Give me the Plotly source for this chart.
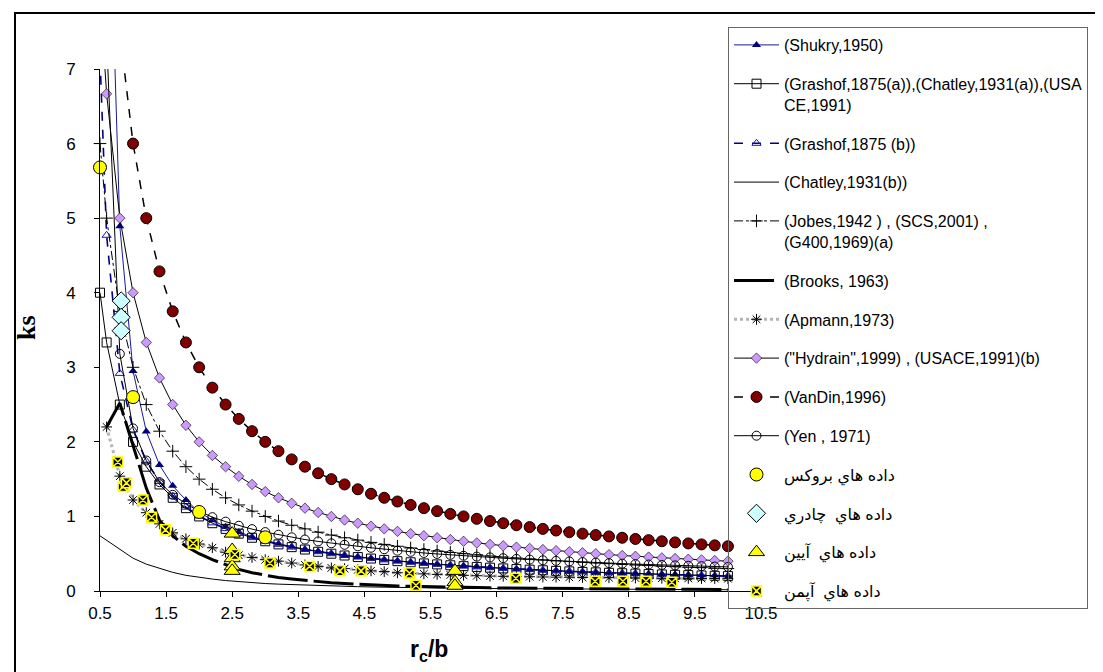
import plotly.graph_objects as go

# ---------------- data ----------------
X = [0.5, 0.6, 0.8, 1.0, 1.2, 1.4, 1.6, 1.8, 2.0, 2.2, 2.4, 2.6, 2.8, 3.0, 3.2, 3.4, 3.6, 3.8,
     4.0, 4.2, 4.4, 4.6, 4.8, 5.0, 5.2, 5.4, 5.6, 5.8, 6.0, 6.2, 6.4, 6.6, 6.8, 7.0, 7.2, 7.4,
     7.6, 7.8, 8.0, 8.2, 8.4, 8.6, 8.8, 9.0, 9.2, 9.4, 9.6, 9.8, 10.0]
X6 = X[1:]  # series starting at 0.6

shukry = [19.2, 10.66, 4.89, 2.95, 2.14, 1.69, 1.41, 1.22, 1.059, 0.95, 0.862, 0.79, 0.729, 0.679,
          0.634, 0.595, 0.561, 0.531, 0.504, 0.479, 0.457, 0.437, 0.418, 0.402, 0.386, 0.371, 0.358,
          0.346, 0.334, 0.324, 0.313, 0.304, 0.295, 0.286, 0.278, 0.271, 0.264, 0.257, 0.251, 0.244,
          0.239, 0.233, 0.228, 0.223, 0.218, 0.213, 0.209, 0.205, 0.2]
grashof_a = [4.0, 3.333, 2.5, 2.0, 1.667, 1.429, 1.25, 1.111, 1.0, 0.909, 0.833, 0.769, 0.714, 0.667,
             0.625, 0.588, 0.556, 0.526, 0.5, 0.476, 0.455, 0.435, 0.417, 0.4, 0.385, 0.37, 0.357,
             0.345, 0.333, 0.323, 0.313, 0.303, 0.294, 0.286, 0.278, 0.27, 0.263, 0.256, 0.25, 0.244,
             0.238, 0.233, 0.227, 0.222, 0.217, 0.213, 0.208, 0.204, 0.2]
grashof_b = [7.15, 4.77, 2.918, 2.16, 1.74, 1.467, 1.271, 1.124, 1.008, 0.914, 0.837, 0.772, 0.716,
             0.668, 0.626, 0.589, 0.556, 0.527, 0.5, 0.476, 0.455, 0.435, 0.417, 0.4, 0.385, 0.37,
             0.357, 0.345, 0.333, 0.323, 0.313, 0.303, 0.294, 0.286, 0.278, 0.27, 0.263, 0.256, 0.25,
             0.244, 0.238, 0.233, 0.227, 0.222, 0.217, 0.213, 0.208, 0.204, 0.2]
chatley_b = [0.74, 0.68, 0.55, 0.44, 0.36, 0.3, 0.25, 0.21, 0.18, 0.16, 0.14, 0.125, 0.11, 0.1,
             0.092, 0.085, 0.078, 0.072, 0.067, 0.062, 0.058, 0.054, 0.05, 0.047, 0.044, 0.042,
             0.04, 0.038, 0.036, 0.034, 0.033, 0.031, 0.03, 0.029, 0.028, 0.027, 0.026, 0.025,
             0.024, 0.023, 0.022, 0.022, 0.021, 0.02, 0.02, 0.019, 0.018, 0.018, 0.017]
jobes = [6.0, 5.0, 3.75, 3.0, 2.5, 2.143, 1.875, 1.667, 1.5, 1.364, 1.25, 1.154, 1.071, 1.0, 0.938,
         0.882, 0.833, 0.789, 0.75, 0.714, 0.682, 0.652, 0.625, 0.6, 0.577, 0.556, 0.536, 0.517,
         0.5, 0.484, 0.469, 0.455, 0.441, 0.429, 0.417, 0.405, 0.395, 0.385, 0.375, 0.366, 0.357,
         0.349, 0.341, 0.333, 0.326, 0.319, 0.313, 0.306, 0.3]
brooks = [2.2, 2.52, 1.95, 1.38, 0.95, 0.74, 0.6, 0.5, 0.42, 0.35, 0.29, 0.245, 0.21, 0.18, 0.16,
          0.14, 0.125, 0.11, 0.1, 0.09, 0.082, 0.075, 0.068, 0.063, 0.058, 0.054, 0.05, 0.047,
          0.044, 0.042, 0.04, 0.038, 0.036, 0.034, 0.033, 0.031, 0.03, 0.029, 0.028, 0.027, 0.026,
          0.025, 0.024, 0.023, 0.023, 0.022, 0.021, 0.021]
apmann = [2.2, 1.54, 1.22, 1.05, 0.9, 0.78, 0.7, 0.63, 0.58, 0.52, 0.48, 0.45, 0.42, 0.4, 0.375,
          0.35, 0.33, 0.31, 0.3, 0.285, 0.27, 0.26, 0.245, 0.237, 0.23, 0.223, 0.216, 0.21, 0.205,
          0.2, 0.197, 0.194, 0.191, 0.188, 0.186, 0.184, 0.182, 0.18, 0.178, 0.176, 0.174, 0.173,
          0.171, 0.17, 0.169, 0.168, 0.167, 0.165]
hydrain = [8.0, 6.667, 5.0, 4.0, 3.333, 2.857, 2.5, 2.222, 2.0, 1.818, 1.667, 1.538, 1.429, 1.333,
           1.25, 1.176, 1.111, 1.053, 1.0, 0.952, 0.909, 0.87, 0.833, 0.8, 0.769, 0.741, 0.714,
           0.69, 0.667, 0.645, 0.625, 0.606, 0.588, 0.571, 0.556, 0.541, 0.526, 0.513, 0.5, 0.488,
           0.476, 0.465, 0.455, 0.444, 0.435, 0.426, 0.417, 0.408, 0.4]
vandin = [12.0, 10.0, 7.5, 6.0, 5.0, 4.286, 3.75, 3.333, 3.0, 2.727, 2.5, 2.308, 2.143, 2.0, 1.875,
          1.765, 1.667, 1.579, 1.5, 1.429, 1.364, 1.304, 1.25, 1.2, 1.154, 1.111, 1.071, 1.034,
          1.0, 0.968, 0.938, 0.909, 0.882, 0.857, 0.833, 0.811, 0.789, 0.769, 0.75, 0.732, 0.714,
          0.698, 0.682, 0.667, 0.652, 0.638, 0.625, 0.612, 0.6]
yen = [11.0, 7.4, 3.18, 2.18, 1.75, 1.46, 1.29, 1.17, 1.07, 0.99, 0.93, 0.875, 0.83, 0.79, 0.755,
       0.72, 0.69, 0.665, 0.64, 0.62, 0.6, 0.58, 0.56, 0.54, 0.525, 0.51, 0.497, 0.484, 0.472,
       0.461, 0.45, 0.44, 0.43, 0.421, 0.412, 0.404, 0.396, 0.388, 0.381, 0.374, 0.367, 0.361,
       0.355, 0.349, 0.343, 0.338, 0.333, 0.328, 0.323]

brooks_data_x = [0.5, 1.0, 2.0, 3.0]
brooks_data_y = [5.68, 2.6, 1.06, 0.72]
chadri_x = [0.82, 0.82, 0.82]
chadri_y = [3.89, 3.67, 3.49]
apin_x = [2.5, 2.5, 2.5, 2.5, 2.5, 5.87, 5.87, 5.87]
apin_y = [0.77, 0.55, 0.44, 0.33, 0.27, 0.27, 0.12, 0.07]
apman_x = [0.77, 0.85, 0.9, 1.15, 1.28, 1.49, 1.91, 2.54, 3.07, 3.67, 4.13, 4.45, 5.18, 5.28,
           6.79, 7.99, 8.41, 8.76, 9.15]
apman_y = [1.73, 1.40, 1.45, 1.22, 0.99, 0.82, 0.64, 0.49, 0.375, 0.33, 0.27, 0.27, 0.24, 0.076,
           0.17, 0.13, 0.13, 0.13, 0.117]

x_ticks = [0.5, 1.5, 2.5, 3.5, 4.5, 5.5, 6.5, 7.5, 8.5, 9.5, 10.5]
y_ticks = [0, 1, 2, 3, 4, 5, 6, 7]

# ---------------- figure ----------------
fig = go.Figure()
g = [0]


def add(name, x, y, mode, line=None, marker=None, clip=True):
    g[0] += 1
    fig.add_trace(go.Scatter(x=x, y=y, mode=mode, name=name, line=line, marker=marker,
                             cliponaxis=clip, legendgroup="g%d" % g[0]))


add("(Shukry,1950)", X, shukry, "lines+markers",
    dict(color="#1a1a9a", width=1),
    dict(symbol="triangle-up", size=8, color="#000080"))
add("(Grashof,1875(a)),(Chatley,1931(a)),(USA<br>CE,1991)", X, grashof_a, "lines+markers",
    dict(color="black", width=1),
    dict(symbol="square-open", size=9, color="black", line=dict(width=1)), clip=False)
add("(Grashof,1875 (b))", X, grashof_b, "lines+markers",
    dict(color="#000080", width=1.6, dash="dash"),
    dict(symbol="triangle-up-open", size=8, color="#1a1aaa", line=dict(width=1)))
add("(Chatley,1931(b))", X, chatley_b, "lines",
    dict(color="black", width=1))
add("(Jobes,1942 ) , (SCS,2001) ,<br>(G400,1969)(a)", X, jobes, "lines+markers",
    dict(color="black", width=1, dash="dashdot"),
    dict(symbol="cross-thin-open", size=9, color="black", line=dict(width=1, color="black")),
    clip=False)
add("(Brooks, 1963)", X6, brooks, "lines",
    dict(color="black", width=3, dash="40px,6px"))
add("(Apmann,1973)", X6, apmann, "lines+markers",
    dict(color="#b4b4b4", width=3, dash="dot"),
    dict(symbol="asterisk-open", size=9, color="black", line=dict(width=1, color="black")),
    clip=False)
add("(\"Hydrain\",1999) , (USACE,1991)(b)", X, hydrain, "lines+markers",
    dict(color="black", width=1),
    dict(symbol="diamond", size=8, color="#cc99ff", line=dict(width=0.6, color="black")))
add("(VanDin,1996)", X, vandin, "lines+markers",
    dict(color="black", width=1.5, dash="dash"),
    dict(symbol="circle", size=11, color="#800000", line=dict(width=1, color="black")))
add("(Yen , 1971)", X, yen, "lines+markers",
    dict(color="black", width=1),
    dict(symbol="circle-open", size=9, color="black", line=dict(width=1)))
add("داده هاي بروكس", brooks_data_x, brooks_data_y, "markers", None,
    dict(symbol="circle", size=13, color="#ffff00", line=dict(width=1, color="black")), clip=False)
add("داده هاي  چادري", chadri_x, chadri_y, "markers", None,
    dict(symbol="diamond", size=14, color="#ccffff", line=dict(width=1, color="black")), clip=False)
add("داده هاي  آيين", apin_x, apin_y, "markers", None,
    dict(symbol="triangle-up", size=14, color="#ffff00", line=dict(width=1, color="black")),
    clip=False)
add("داده هاي  آپمن", apman_x, apman_y, "markers", None,
    dict(symbol="square-x", size=10, color="black", line=dict(width=1.5, color="#ffff00")),
    clip=False)

L, R, T, B = 92, 350, 61, 89
W, H = 1103, 672
pw, ph = W - L - R, H - T - B


def px_x(p):
    return (p - L) / pw


def px_y(p):
    return (H - B - p) / ph


font_main = "Liberation Sans, Arial, DejaVu Sans, sans-serif"

fig.update_layout(
    width=W, height=H, autosize=False,
    margin=dict(l=L, r=R, t=T, b=B, pad=0),
    paper_bgcolor="white", plot_bgcolor="white",
    font=dict(family=font_main, color="black"),
    showlegend=True,
    legend=dict(
        x=px_x(720), y=px_y(19), xanchor="left", yanchor="top",
        bgcolor="rgba(255,255,255,0)", bordercolor="#666666", borderwidth=1,
        font=dict(size=16, family=font_main, color="black"),
        traceorder="grouped", tracegroupgap=15, itemwidth=45, valign="top",
        maxheight=660,
    ),
    xaxis=dict(range=[0.5, 10.5], tickvals=x_ticks, ticktext=[str(v) for v in x_ticks],
               ticks="outside", ticklen=5, tickcolor="black", showline=True, linecolor="black",
               linewidth=1, showgrid=False, zeroline=False, ticklabelstandoff=2,
               tickfont=dict(size=17, family=font_main, color="black")),
    yaxis=dict(range=[0, 7], tickvals=y_ticks, ticks="outside", ticklen=5, tickcolor="black",
               showline=True, linecolor="black", linewidth=1, showgrid=False, zeroline=False,
               ticklabelstandoff=15, tickfont=dict(size=17, family=font_main, color="black")),
    annotations=[
        dict(text="<b>ks</b>", xref="paper", yref="paper", x=px_x(18), y=px_y(320),
             xanchor="center", yanchor="middle", textangle=-90, showarrow=False,
             font=dict(family="Liberation Serif, Times New Roman, serif", size=26, color="black")),
        dict(text="<b>r<sub>c</sub>/b</b>", xref="paper", yref="paper", x=px_x(421), y=px_y(642),
             xanchor="center", yanchor="middle", showarrow=False,
             font=dict(family=font_main, size=23, color="black")),
    ],
    shapes=[
        dict(type="rect", xref="paper", yref="paper", x0=px_x(7), x1=px_x(1097),
             y0=px_y(668), y1=px_y(5), line=dict(color="black", width=2),
             fillcolor="rgba(0,0,0,0)", layer="above"),
    ],
)

fig.write_html("out.html")
